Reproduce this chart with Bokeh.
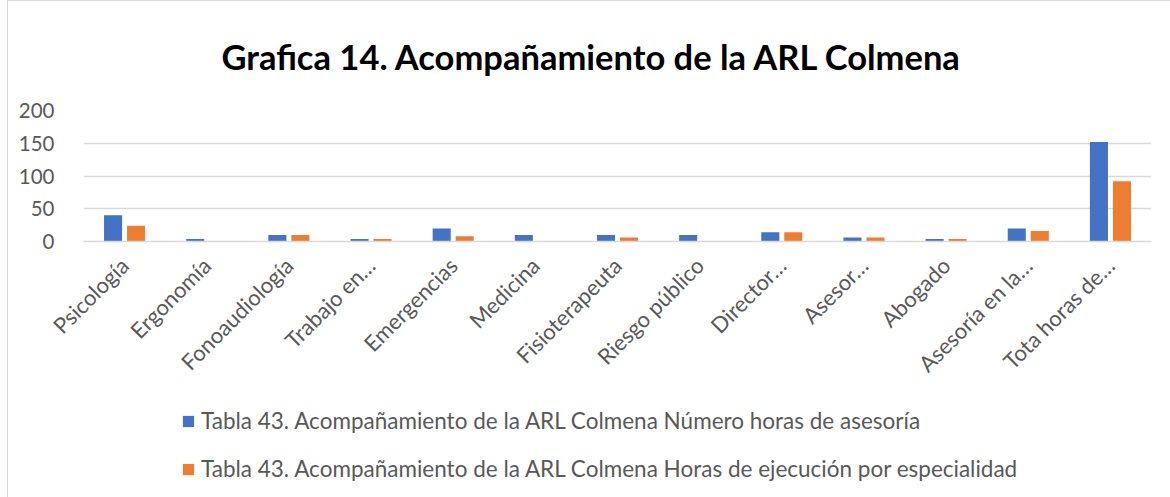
import math
from bokeh.plotting import figure
from bokeh.layouts import column
from bokeh.models import ColumnDataSource, FactorRange, FixedTicker, Legend, LegendItem, Range1d
from bokeh.transform import dodge
from bokeh.embed import file_html
from bokeh.resources import INLINE

categories = ["Psicología", "Ergonomía", "Fonoaudiología", "Trabajo en…", "Emergencias",
              "Medicina", "Fisioterapeuta", "Riesgo público", "Director…", "Asesor…",
              "Abogado", "Asesoría en la…", "Tota horas de…"]
numero_horas = [40, 4, 10, 4, 20, 10, 10, 10, 14, 6, 4, 20, 152]
horas_ejecucion = [24, 0, 10, 4, 8, 0, 6, 0, 14, 6, 4, 16, 92]
y_ticks = [0, 50, 100, 150, 200]
title_text = "Grafica 14. Acompañamiento de la ARL Colmena"
series_names = ["Tabla 43. Acompañamiento de la ARL Colmena Número horas de asesoría",
                "Tabla 43. Acompañamiento de la ARL Colmena Horas de ejecución por especialidad"]
colors = ["#4472C4", "#ED7D31"]

FONT = "Lato"
GRAY = "#595959"

src = ColumnDataSource(dict(cat=categories, a=numero_horas, b=horas_ejecucion))

p = figure(width=1162, height=399, x_range=FactorRange(*categories), y_range=Range1d(0, 200),
           output_backend="svg", toolbar_location=None,
           min_border_left=75, min_border_right=19, min_border_top=109, min_border_bottom=159)
p.outline_line_color = None

r1 = p.vbar(x=dodge("cat", -0.14, range=p.x_range), top="a", width=0.22, source=src,
            fill_color=colors[0], line_color=None)
r2 = p.vbar(x=dodge("cat", 0.14, range=p.x_range), top="b", width=0.22, source=src,
            fill_color=colors[1], line_color=None)

p.title.text = title_text
p.title.text_font = FONT
p.title.text_font_size = "34.5px"
p.title.text_font_style = "bold"
p.title.text_color = "#000000"
p.title.align = "left"
p.title.vertical_align = "middle"
p.title.offset = 138
p.title.standoff = 65

p.xgrid.grid_line_color = None
p.ygrid.grid_line_color = "#d9d9d9"
p.ygrid.grid_line_width = 1.5
p.yaxis.ticker = FixedTicker(ticks=y_ticks)
p.yaxis.axis_line_color = None
p.yaxis.major_tick_line_color = None
p.yaxis.minor_tick_line_color = None
p.yaxis.major_label_standoff = 23
p.yaxis.major_label_text_font = FONT
p.yaxis.major_label_text_font_size = "20.5px"
p.yaxis.major_label_text_color = GRAY

p.xaxis.axis_line_color = "#d9d9d9"
p.xaxis.axis_line_width = 1.5
p.xaxis.major_tick_line_color = None
p.xaxis.minor_tick_line_color = None
p.xaxis.major_label_orientation = math.pi / 4
p.xaxis.major_label_standoff = 14
p.xaxis.major_label_text_font = FONT
p.xaxis.major_label_text_font_size = "22px"
p.xaxis.major_label_text_color = GRAY

# legend-only figure below the chart
q = figure(width=1162, height=97, x_range=Range1d(0, 1), y_range=Range1d(0, 1),
           output_backend="svg", toolbar_location=None,
           min_border_left=0, min_border_right=0, min_border_top=0, min_border_bottom=0)
q.outline_line_color = None
q.axis.visible = False
q.grid.visible = False
lr1 = q.vbar(x=[0.5], top=[0], width=0.01, fill_color=colors[0], line_color=None)
lr2 = q.vbar(x=[0.5], top=[0], width=0.01, fill_color=colors[1], line_color=None)

legend = Legend(items=[LegendItem(label=series_names[0], renderers=[lr1]),
                       LegendItem(label=series_names[1], renderers=[lr2])],
                location=(98, 15), orientation="vertical",
                glyph_width=14, glyph_height=14, label_standoff=6, spacing=21,
                label_height=24, padding=0, margin=0,
                label_text_font=FONT, label_text_font_size="22.5px", label_text_color=GRAY,
                border_line_color=None, background_fill_alpha=0)
q.add_layout(legend, "center")

layout = column(p, q, spacing=0, margin=(0, 0, 0, 7),
                styles={"border-left": "1px solid #d9d9d9", "border-top": "1px solid #d9d9d9"})
open("out.html", "w").write(file_html(layout, INLINE))
